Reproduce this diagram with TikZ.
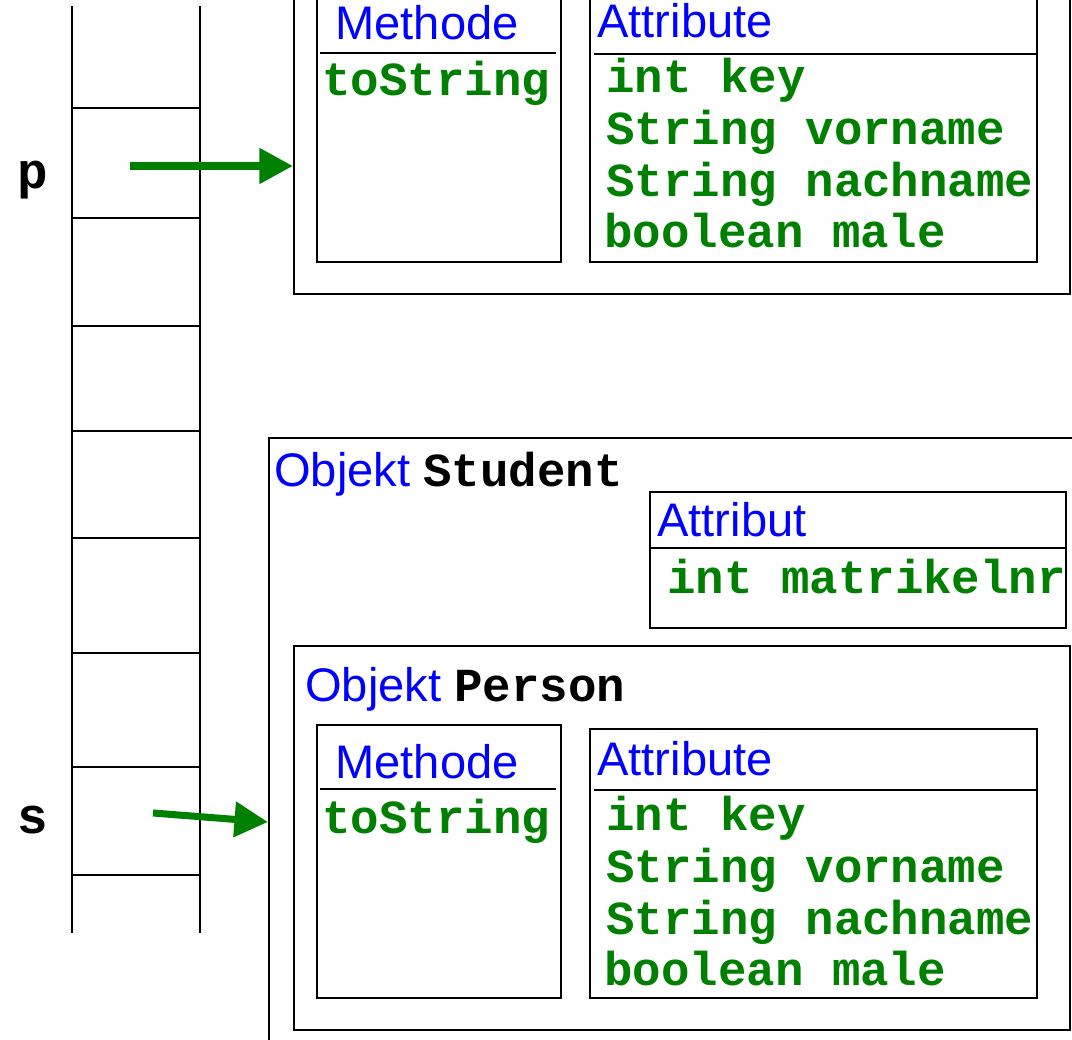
\documentclass[tikz,border=0pt]{standalone}
\usepackage{fontspec}
\setmainfont{Liberation Sans}
\setmonofont{Liberation Mono}
\usetikzlibrary{positioning,arrows.meta,fit,calc}
\definecolor{codegreen}{RGB}{0,128,0}
\newcommand{\headfont}{\fontsize{26.8}{30}\selectfont}
\newcommand{\codefont}{\fontsize{27}{30}\selectfont\ttfamily\bfseries}

\begin{document}
\begin{tikzpicture}[
        x = 0.02cm, y = -0.02cm,
        box/.style = {draw, line width=1.3pt, inner sep=0pt},
        head/.style = {text=blue, font=\headfont, anchor=base west, inner sep=0pt},
        field/.style = {text=codegreen, font=\codefont, anchor=base west, inner sep=0pt},
        var/.style = {font=\fontsize{29}{30}\selectfont\ttfamily\bfseries, anchor=base, inner sep=0pt},
        line/.style = {draw=codegreen, line width=4pt, -{Triangle[length=19pt, width=19.5pt]}}
    ]
    \clip (0,0) rectangle (1072,1040);

    % stack
    \draw[line width=1.3pt] (72,6) -- (72,933) (200,6) -- (200,933);
    \foreach \y in {108,218,326,431,538,653,767,875}
        \draw[line width=1.3pt] (72,\y) -- (200,\y);
    \node [var] (pvar) at (33,189) {p};
    \node [var] (svar) at (33,833) {s};

    % object p
    \node [box, fit={(294,-80) (1070,294)}] (pobj) {};
    \node [box, fit={(317,-60) (561,262)}] (pmeth) {};
    \node [box, fit={(590,-60) (1037,262)}] (pattr) {};
    \draw[line width=1.3pt] (320,53) -- (556,53) (594,54) -- (1037,54);
    \node [head] (pmethhead) at (335,40) {Methode};
    \node [head] (pattrhead) at (597,38) {Attribute};
    \node [field] (ptostring) at (322,96) {toString};
    \node [field] (pkey) at (606,93) {int key};
    \node [field] (pvorname) at (606,145) {String vorname};
    \node [field] (pnachname) at (606,197) {String nachname};
    \node [field] (pmale) at (604,248) {boolean male};

    % object s
    \node [box, fit={(269,438) (1100,1080)}] (sobj) {};
    \node [head] (shead) at (274,486) {Objekt \textcolor{black}{\codefont Student}};
    \node [box, fit={(650,492) (1066,628)}] (sattr) {};
    \draw[line width=1.3pt] (650,548) -- (1066,548);
    \node [head] (sattrhead) at (657,537) {Attribut};
    \node [field] (smatrikel) at (667,593) {int matrikelnr};

    \node [box, fit={(294,646) (1070,1030)}] (sperson) {};
    \node [head] (spersonhead) at (305,701) {Objekt \textcolor{black}{\codefont Person}};
    \node [box, fit={(317,725) (561,998)}] (smeth) {};
    \node [box, fit={(590,729) (1037,998)}] (spattr) {};
    \draw[line width=1.3pt] (320,789) -- (556,789) (594,790) -- (1037,790);
    \node [head] (smethhead) at (335,778) {Methode};
    \node [head] (spattrhead) at (597,775) {Attribute};
    \node [field] (stostring) at (322,833) {toString};
    \node [field] (skey) at (606,830) {int key};
    \node [field] (svorname) at (606,882) {String vorname};
    \node [field] (snachname) at (606,934) {String nachname};
    \node [field] (smale) at (604,985) {boolean male};

    % references
    \coordinate (pstart) at (130,166);
    \coordinate (sstart) at (153,813);
    \path [line] (pstart) -- (pstart -| pobj.west);
    \path [line] (sstart) -- ($(sstart -| sobj.west) + (0,9)$);

\end{tikzpicture}
\end{document}
